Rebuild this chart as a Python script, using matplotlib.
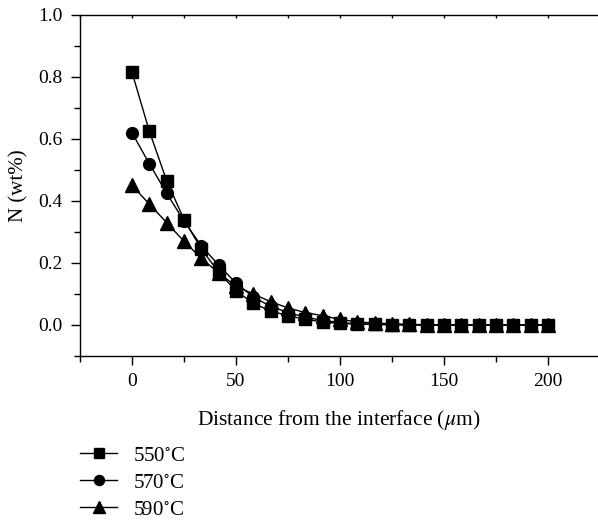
import matplotlib
matplotlib.use('Agg')
import matplotlib.pyplot as plt
from matplotlib.ticker import MultipleLocator, FormatStrFormatter

plt.rcParams['font.family'] = ['Liberation Serif', 'DejaVu Serif']
plt.rcParams['mathtext.fontset'] = 'stix'

# Distance from the interface (um), 25 points from 0 to 200
distance = [i * 200 / 24 for i in range(25)]

n_550 = [0.815, 0.625, 0.465, 0.34, 0.245, 0.17, 0.11, 0.07, 0.045, 0.03,
         0.018, 0.01, 0.005, 0.003, 0.002, 0.001, 0.0, 0.0, 0.0, 0.0,
         0.0, 0.0, 0.0, 0.0, 0.0]
n_570 = [0.62, 0.52, 0.425, 0.335, 0.255, 0.193, 0.135, 0.09, 0.06, 0.04,
         0.025, 0.015, 0.008, 0.004, 0.002, 0.001, 0.0, 0.0, 0.0, 0.0,
         0.0, 0.0, 0.0, 0.0, 0.0]
n_590 = [0.45, 0.39, 0.33, 0.27, 0.215, 0.168, 0.125, 0.1, 0.075, 0.055,
         0.04, 0.03, 0.018, 0.01, 0.006, 0.004, 0.002, 0.001, 0.0, 0.0,
         0.0, 0.0, 0.0, 0.0, 0.0]

series = [
    (n_550, 's', 8, r'550$^{\circ}$C'),
    (n_570, 'o', 8.5, r'570$^{\circ}$C'),
    (n_590, '^', 10, r'590$^{\circ}$C'),
]

fig = plt.figure(figsize=(5.98, 5.2), dpi=100)
ax = fig.add_axes([0.1338, 0.3154, 0.8662, 0.6558])

for values, marker, ms, label in series:
    ax.plot(distance, values, color='black', marker=marker, markersize=ms,
            linewidth=1, label=label)

ax.set_xlim(-25, 224)
ax.set_ylim(-0.1, 1.0)
ax.xaxis.set_major_locator(MultipleLocator(50))
ax.xaxis.set_minor_locator(MultipleLocator(25))
ax.yaxis.set_major_locator(MultipleLocator(0.2))
ax.yaxis.set_minor_locator(MultipleLocator(0.1))
ax.yaxis.set_major_formatter(FormatStrFormatter('%.1f'))

ax.spines['right'].set_visible(False)
ax.spines['top'].set_visible(False)
for sp in ax.spines.values():
    sp.set_linewidth(1)
ax.tick_params(which='both', direction='out', labelsize=14, width=1, pad=6)
ax.tick_params(which='major', length=6.5)
ax.tick_params(which='minor', length=4)

# top axis line with tiny inward ticks
top = ax.secondary_xaxis('top')
top.xaxis.set_major_locator(MultipleLocator(25))
top.tick_params(direction='in', length=2, width=1, labeltop=False)
top.spines['top'].set_linewidth(1)

ax.set_xlabel(r'Distance from the interface ($\mu$m)', fontsize=15.5, labelpad=13)
ax.set_ylabel('N (wt%)', fontsize=15, labelpad=7)

fig.legend(loc='upper left', bbox_to_anchor=(0.103, 0.178), frameon=False,
           fontsize=15, handlelength=1.75, labelspacing=0.35, handletextpad=0.8,
           markerscale=0.85)

fig.savefig('out.png', dpi=100)
